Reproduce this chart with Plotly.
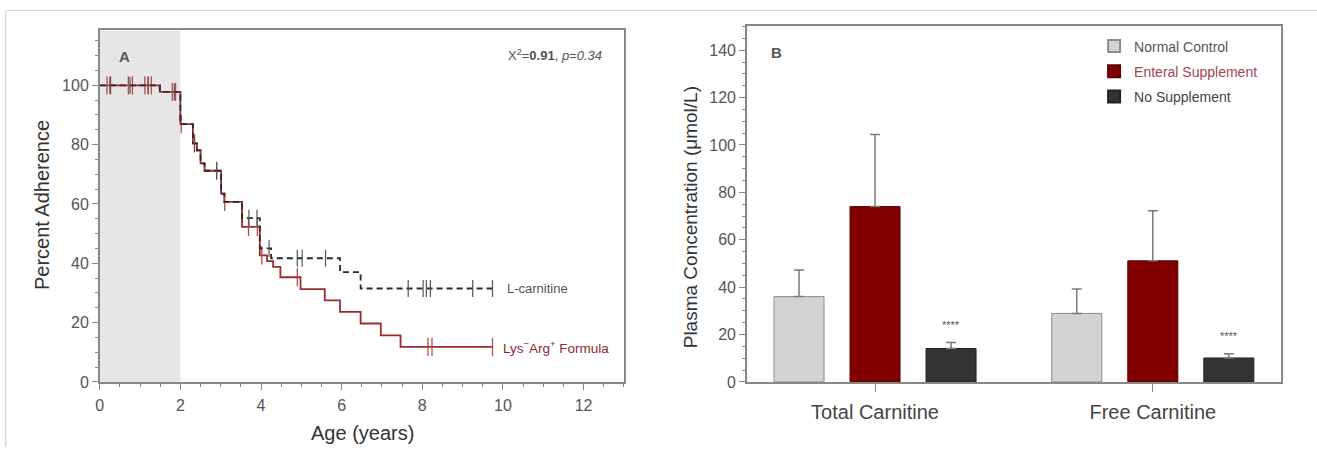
import plotly.graph_objects as go

W, H = 1317, 456

# ---------------- Data: Panel A (Kaplan-Meier adherence) ----------------
lys_times = [0, 1.49, 2.0, 2.31, 2.41, 2.5, 2.6, 3.01, 3.09, 3.53, 3.97, 4.15, 4.3, 4.48, 4.98, 5.58, 5.96, 6.47, 6.97, 7.46, 9.74]
lys_surv = [100, 97.8, 86.9, 80.4, 78.1, 73.7, 71.2, 63.5, 60.7, 52.3, 42.7, 40.7, 38.8, 35.3, 31.3, 27.5, 23.6, 19.7, 15.7, 11.8, 11.8]
lys_censor = [0.18, 0.27, 0.71, 0.81, 1.12, 1.2, 1.28, 1.8, 1.88, 2.02, 2.35, 2.9, 3.1, 3.69, 3.91, 4.02, 4.9, 8.14, 8.24, 9.74]

lcar_times = [0, 1.49, 2.0, 2.31, 2.41, 2.5, 2.6, 3.01, 3.09, 3.53, 3.97, 4.25, 5.96, 6.47, 9.74]
lcar_surv = [100, 97.8, 86.9, 80.4, 78.1, 73.7, 71.2, 63.5, 60.7, 55.2, 45.0, 41.7, 37.0, 31.5, 31.5]
lcar_censor = [0.25, 0.75, 1.2, 1.85, 2.35, 2.9, 3.7, 3.9, 4.2, 4.9, 5.02, 5.6, 7.65, 8.02, 8.1, 8.2, 9.25, 9.74]

# ---------------- Data: Panel B (plasma carnitine) ----------------
categories = ["Total Carnitine", "Free Carnitine"]
group_names = ["Normal Control", "Enteral Supplement", "No Supplement"]
normal_vals = [36.0, 28.9]
normal_err = [11.2, 10.3]
enteral_vals = [74.0, 51.1]
enteral_err = [30.4, 21.1]
nosupp_vals = [14.1, 10.1]
nosupp_err = [2.5, 1.8]
sig_labels = ["****", "****"]

FONT = "Arial, Liberation Sans, sans-serif"


# layout helpers: convert target picture pixels to paper fractions
# (small linear correction measured from the rendered page)
def px(x):
    return ((x - 4.3) / 0.9966) / W


def py(y):
    return 1 - ((y + 0.5) / 0.981) / H


def surv_at(times, surv, t):
    val = surv[0]
    for ti, si in zip(times, surv):
        if ti <= t:
            val = si
    return val


fig = go.Figure()

RED = "#9e2a2b"
BLK = "#2b2b2b"

# Panel A curves
fig.add_trace(go.Scatter(x=lys_times, y=lys_surv, mode="lines", line_shape="hv",
                         line=dict(color=RED, width=1.8), showlegend=False,
                         xaxis="x", yaxis="y"))
fig.add_trace(go.Scatter(x=lys_censor, y=[surv_at(lys_times, lys_surv, t) for t in lys_censor],
                         mode="markers", marker=dict(symbol="line-ns", size=13,
                                                     line=dict(color="#b84a4a", width=1.3)),
                         showlegend=False, xaxis="x", yaxis="y"))
fig.add_trace(go.Scatter(x=lcar_times, y=lcar_surv, mode="lines", line_shape="hv",
                         line=dict(color=BLK, width=1.8, dash="6px,4px"), showlegend=False,
                         xaxis="x", yaxis="y"))
fig.add_trace(go.Scatter(x=lcar_censor, y=[surv_at(lcar_times, lcar_surv, t) for t in lcar_censor],
                         mode="markers", marker=dict(symbol="line-ns", size=12,
                                                     line=dict(color="#555555", width=1.2)),
                         showlegend=False, xaxis="x", yaxis="y"))

# Panel B bars
bar_specs = [
    (group_names[0], normal_vals, normal_err, "#d3d3d3", "#8c8c8c", "#555555"),
    (group_names[1], enteral_vals, enteral_err, "#800000", "#5a0000", "#a4454c"),
    (group_names[2], nosupp_vals, nosupp_err, "#333333", "#222222", "#444444"),
]
for i, (nm, vals, errs, col, lcol, tcol) in enumerate(bar_specs):
    fig.add_trace(go.Bar(
        x=categories, y=vals, name=f'<span style="color:{tcol}">{nm}</span>',
        legendgroup=f"g{i}",
        marker=dict(color=col, line=dict(color=lcol, width=1)),
        error_y=dict(type="data", array=errs, arrayminus=[0] * len(errs), symmetric=False,
                     color="#7a7a7a", thickness=1.5, width=5),
        xaxis="x2", yaxis="y2"))

axis_common = dict(showline=True, linecolor="#888888", linewidth=1.5, mirror=True,
                   ticks="outside", tickcolor="#888888", tickwidth=1.2, showgrid=False,
                   zeroline=False, tickfont=dict(family=FONT, size=16, color="#555555"))

slot = (1 - 0.179) / 3


def pa(text, x, y, size, color="#555555", xanchor="center", angle=0):
    return dict(text=text, x=px(x), y=py(y), xref="paper", yref="paper", xanchor=xanchor,
                yanchor="middle", textangle=angle, showarrow=False,
                font=dict(family=FONT, size=size, color=color))


annotations = [
    pa("<b>A</b>", 125, 56, 15),
    pa("<b>B</b>", 777, 52.5, 15),
    pa("X<sup>2</sup>=<b>0.91</b>, <i>p=0.34</i>", 604, 55, 13, xanchor="right"),
    dict(text="L-carnitine", x=10.05, y=31.5, xref="x", yref="y", xanchor="left", yanchor="middle",
         showarrow=False, font=dict(family=FONT, size=13, color="#555555")),
    dict(text="Lys<sup>−</sup>Arg<sup>+</sup> Formula", x=9.95, y=11.8, xref="x", yref="y",
         xanchor="left", yanchor="middle",
         showarrow=False, font=dict(family=FONT, size=13.5, color="#8b2a2e")),
    pa("Percent Adherence", 43, 205, 20, color="#333333", angle=-90),
    pa("Age (years)", 363, 433, 20, color="#333333"),
    pa("Plasma Concentration (μmol/L)", 690, 217, 19, color="#333333", angle=-90),
]
for i, lab in enumerate(sig_labels):
    annotations.append(dict(text=lab, x=i + slot, y=nosupp_vals[i] + nosupp_err[i], xref="x2", yref="y2",
                            xanchor="center", yanchor="bottom", yshift=10, showarrow=False,
                            font=dict(family=FONT, size=11, color="#555555")))

shapes = [
    dict(type="rect", xref="x", yref="y domain", x0=0, x1=2, y0=0, y1=1, fillcolor="#e6e6e6",
         line=dict(width=0), layer="below"),
    dict(type="line", xref="paper", yref="paper", x0=px(6), x1=1, y0=py(10), y1=py(10),
         line=dict(color="#d4d4d4", width=1.2)),
    dict(type="line", xref="paper", yref="paper", x0=px(6), x1=px(6), y0=py(10), y1=0,
         line=dict(color="#d4d4d4", width=1.2)),
]

fig.update_layout(
    width=W, height=H, margin=dict(l=0, r=0, t=0, b=0),
    paper_bgcolor="white", plot_bgcolor="white",
    font=dict(family=FONT, color="#444444"),
    barmode="group", bargap=0.179, bargroupgap=0.342,
    xaxis=dict(domain=[px(100), px(624)], range=[0, 13], tickmode="linear", tick0=0, dtick=2,
               ticklen=6, ticklabelstandoff=2,
               minor=dict(dtick=0.5, ticklen=3, ticks="outside", tickcolor="#888888"),
               anchor="y", **axis_common),
    yaxis=dict(domain=[py(381.7), py(30)], range=[0, 118.5], tickmode="linear", tick0=0, dtick=20,
               ticklen=6, minor=dict(dtick=5, ticklen=3, ticks="outside", tickcolor="#888888"),
               anchor="x", **axis_common),
    xaxis2=dict(domain=[px(747), px(1280.7)], range=[-0.461, 1.461], type="category",
                ticklen=8, ticklabelstandoff=3, anchor="y2",
                **{k: v for k, v in axis_common.items() if k != "tickfont"},
                tickfont=dict(family=FONT, size=20, color="#444444")),
    yaxis2=dict(domain=[py(381.7), py(26)], range=[0, 150], tickmode="linear", tick0=0, dtick=20,
                ticklen=6, minor=dict(dtick=5, ticklen=3, ticks="outside", tickcolor="#888888"),
                anchor="x2", **axis_common),
    legend=dict(x=px(1094), y=py(30), xanchor="left", yanchor="top", bgcolor="rgba(0,0,0,0)",
                font=dict(family=FONT, size=14, color="#555555"), tracegroupgap=4,
                itemsizing="constant"),
    annotations=annotations,
    shapes=shapes,
)

post = (
    "var s=document.createElement('style');"
    "s.innerHTML='html,body{margin:0!important;padding:0!important;overflow:hidden!important;"
    "width:1317px;height:456px;}';"
    "document.head.appendChild(s);"
)

fig.write_html("out.html", post_script=post, config={"displayModeBar": False})
